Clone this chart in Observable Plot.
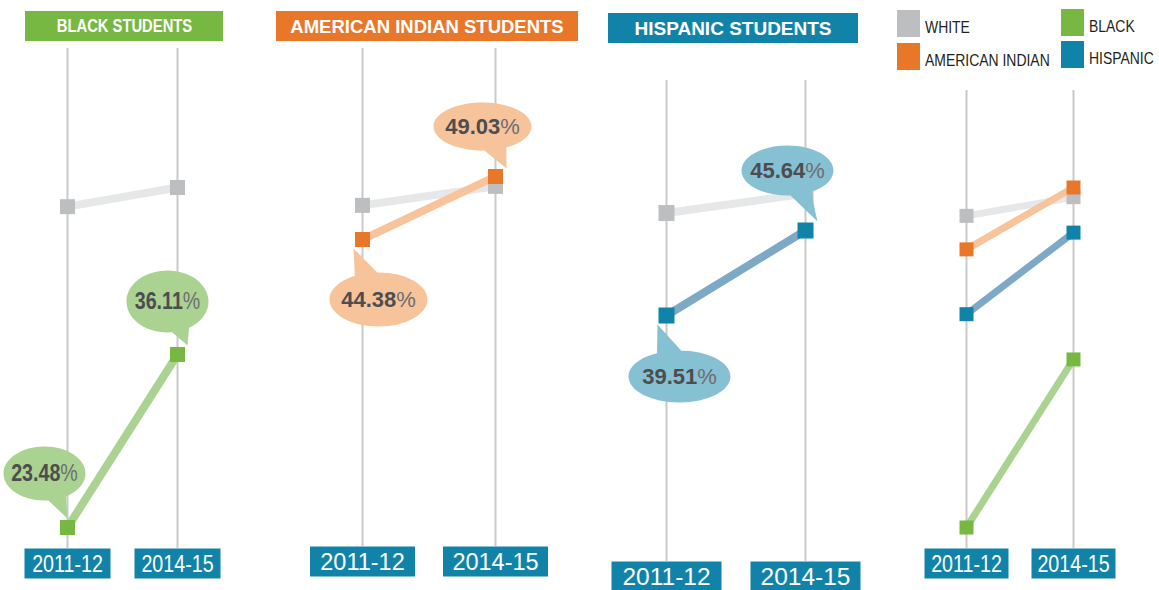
<!DOCTYPE html>
<html><head><meta charset="utf-8">
<script src="https://cdn.jsdelivr.net/npm/d3@7"></script>
<script src="https://cdn.jsdelivr.net/npm/@observablehq/plot@0.6"></script>
<style>
body{margin:0;background:#fff;}
#chart{position:relative;width:1159px;height:590px;overflow:hidden;}
.title{position:absolute;height:30px;line-height:31px;color:#fff;font-weight:bold;text-align:center;white-space:nowrap;}
.title span{display:inline-block;}
.sw{position:absolute;width:23px;height:27px;}
.lg{position:absolute;font-family:"Liberation Sans",Arial,sans-serif;font-size:17px;color:#231f20;line-height:20px;white-space:nowrap;transform:scaleX(0.82);transform-origin:0 0;}
</style></head><body><div id="chart"></div>
<script>
// ---- data ----
const years = ["2011-12", "2014-15"];
const white = [46.9, 48.3];
const black = [23.48, 36.11];
const americanIndian = [44.38, 49.03];
const hispanic = [39.51, 45.64];
const legendNames = ["WHITE", "AMERICAN INDIAN", "BLACK", "HISPANIC"];
const titles = ["BLACK STUDENTS", "AMERICAN INDIAN STUDENTS", "HISPANIC STUDENTS"];

// ---- styles ----
const SANS = '"Liberation Sans",Arial,sans-serif';
const BLUE = "#1283a8";
const series = {
  white: {values: white, dark: "#bcbec0", light: "#e6e7e8", bubble: "#e6e7e8"},
  americanIndian: {values: americanIndian, dark: "#e8772a", light: "#f6c39b", bubble: "#f6c39b"},
  hispanic: {values: hispanic, dark: "#0f83a8", light: "#7ea9c6", bubble: "#86c0d3"},
  black: {values: black, dark: "#77b843", light: "#aad291", bubble: "#aad291"}
};
const rowsOf = key => years.map((year, i) => ({series: key, year, value: series[key].values[i]}));
const allValues = [...white, ...black, ...americanIndian, ...hispanic];
const yDomain = d3.extent(allValues);

function boxSymbol(w, h) {
  return {draw(ctx) { ctx.moveTo(-w / 2, 0); ctx.lineTo(w / 2, 0); ctx.lineTo(w / 2, h); ctx.lineTo(-w / 2, h); ctx.closePath(); }};
}
function bubbleSymbol(b) {
  const {cx, cy, rx, ry, tx, ty} = b;
  return {draw(ctx) {
    const k = 0.5523;
    ctx.moveTo(cx + rx, cy);
    ctx.bezierCurveTo(cx + rx, cy + k * ry, cx + k * rx, cy + ry, cx, cy + ry);
    ctx.bezierCurveTo(cx - k * rx, cy + ry, cx - rx, cy + k * ry, cx - rx, cy);
    ctx.bezierCurveTo(cx - rx, cy - k * ry, cx - k * rx, cy - ry, cx, cy - ry);
    ctx.bezierCurveTo(cx + k * rx, cy - ry, cx + rx, cy - k * ry, cx + rx, cy);
    ctx.closePath();
    const phi = Math.atan2((ty - cy) / ry, (tx - cx) / rx);
    let p1 = [cx + rx * 0.9 * Math.cos(phi - 0.3), cy + ry * 0.9 * Math.sin(phi - 0.3)];
    let p2 = [cx + rx * 0.9 * Math.cos(phi + 0.3), cy + ry * 0.9 * Math.sin(phi + 0.3)];
    const area = (tx - p1[0]) * (p2[1] - p1[1]) - (ty - p1[1]) * (p2[0] - p1[0]);
    if (area < 0) [p1, p2] = [p2, p1];
    const c1 = [p1[0] * 0.45 + tx * 0.55, p1[1] * 0.35 + ty * 0.65];
    const c2 = [p2[0] * 0.6 + tx * 0.4, p2[1] * 0.6 + ty * 0.4];
    ctx.moveTo(p1[0], p1[1]);
    ctx.quadraticCurveTo(c1[0], c1[1], tx, ty);
    ctx.quadraticCurveTo(c2[0], c2[1], p2[0], p2[1]);
    ctx.closePath();
  }};
}

// panel layout; bubble offsets are relative to the data point
const panels = [
  {left: 0, width: 250, xRange: [67, 177], top: 48, bottom: 548, yRange: [527, 177], narrow: true,
   keys: ["white", "black"], lw: 8, side: 15, boxW: 86, boxH: 30, axisSize: 24, labelSize: 24,
   bubbles: [
     {key: "black", i: 0, cx: -23, cy: -54, rx: 41, ry: 27, tx: 0, ty: -9},
     {key: "black", i: 1, cx: -10, cy: -53, rx: 41, ry: 31, tx: 10, ty: -9}
   ]},
  {left: 250, width: 340, xRange: [112, 245], top: 48, bottom: 546, yRange: [522.2, 176], narrow: false,
   keys: ["white", "americanIndian"], lw: 8, side: 15, boxW: 105, boxH: 30, axisSize: 23.5, labelSize: 22,
   bubbles: [
     {key: "americanIndian", i: 1, cx: -13, cy: -50, rx: 49, ry: 24, tx: 11, ty: -8},
     {key: "americanIndian", i: 0, cx: 16, cy: 60, rx: 49, ry: 27, tx: -9, ty: 9}
   ]},
  {left: 590, width: 290, xRange: [76, 215], top: 80, bottom: 561, yRange: [537.3, 183], narrow: false,
   keys: ["white", "hispanic"], lw: 8, side: 16, boxW: 110, boxH: 30, axisSize: 24.5, labelSize: 22,
   bubbles: [
     {key: "hispanic", i: 1, cx: -18, cy: -60, rx: 46, ry: 25, tx: 12, ty: -9},
     {key: "hispanic", i: 0, cx: 13, cy: 61, rx: 51, ry: 26, tx: -9, ty: 9}
   ]},
  {left: 880, width: 279, xRange: [86, 193], top: 90, bottom: 548, yRange: [527, 187], narrow: true,
   keys: ["white", "americanIndian", "hispanic", "black"], lw: 7, side: 14, boxW: 84, boxH: 30, axisSize: 24, labelSize: 24,
   bubbles: []}
];

const chart = document.getElementById("chart");
const ns = "http://www.w3.org/2000/svg";
panels.forEach(p => {
  const marks = [Plot.ruleX(years, {x: d => d, stroke: "#c8c9cb", strokeWidth: 2})];
  p.keys.forEach(k => {
    const s = series[k];
    marks.push(Plot.line(rowsOf(k), {x: "year", y: "value", stroke: s.light, strokeWidth: p.lw}));
    marks.push(Plot.dot(rowsOf(k), {x: "year", y: "value", symbol: "square", r: p.side / Math.sqrt(Math.PI), fill: s.dark}));
  });
  p.bubbles.forEach(b => {
    const row = [rowsOf(b.key)[b.i]];
    marks.push(Plot.dot(row, {x: "year", y: "value", symbol: bubbleSymbol(b), fill: series[b.key].bubble}));
    marks.push(Plot.text(row, {x: "year", y: "value", text: d => d.value.toFixed(2) + "%", dx: b.cx, dy: b.cy,
      fontFamily: SANS, fontSize: p.labelSize, fill: "#4d4d4f", lineAnchor: "middle"}));
  });
  marks.push(Plot.dot(years, {x: d => d, frameAnchor: "bottom", symbol: boxSymbol(p.boxW, p.boxH), fill: BLUE}));
  marks.push(Plot.text(years, {x: d => d, frameAnchor: "bottom", dy: p.boxH / 2 + 1, text: d => d, lineAnchor: "middle",
    fill: "#fff", fontFamily: SANS, fontSize: p.axisSize}));
  const svg = Plot.plot({
    width: p.width, height: 590,
    marginTop: p.top, marginBottom: 590 - p.bottom, marginLeft: 0, marginRight: 0,
    x: {type: "point", domain: years, range: p.xRange, padding: 0, axis: null},
    y: {domain: yDomain, range: p.yRange, axis: null},
    style: {background: "transparent", overflow: "visible"},
    marks
  });
  svg.style.position = "absolute";
  svg.style.left = p.left + "px";
  svg.style.top = "0px";
  chart.appendChild(svg);
  svg.querySelectorAll("text").forEach(t => {
    const s = t.textContent;
    if (s.endsWith("%")) {
      t.textContent = "";
      const a = document.createElementNS(ns, "tspan");
      a.textContent = s.replace("%", "");
      a.setAttribute("font-weight", "bold");
      const b = document.createElementNS(ns, "tspan");
      b.textContent = "%";
      b.setAttribute("fill", "#6d6e71");
      t.appendChild(a); t.appendChild(b);
    }
    if (p.narrow) {
      const tr = t.getAttribute("transform") || "";
      t.setAttribute("transform", tr + " scale(0.82,1)");
    }
  });
});

// titles
const titleBoxes = [
  {left: 25, top: 11, width: 198, bg: "#77b843", size: 18, squeeze: 0.82},
  {left: 276, top: 11, width: 302, bg: "#e8772a", size: 18.5, squeeze: 1},
  {left: 608, top: 13, width: 250, bg: BLUE, size: 19, squeeze: 1}
];
titles.forEach((t, i) => {
  const b = titleBoxes[i];
  const d = document.createElement("div");
  d.className = "title";
  Object.assign(d.style, {left: b.left + "px", top: b.top + "px", width: b.width + "px", background: b.bg, fontFamily: SANS, fontSize: b.size + "px"});
  const sp = document.createElement("span");
  sp.textContent = t;
  sp.style.transform = `scaleX(${b.squeeze})`;
  d.appendChild(sp);
  chart.appendChild(d);
});

// legend
const legendKeys = ["white", "americanIndian", "black", "hispanic"];
const legendPos = [{x: 897, y: 10}, {x: 897, y: 43}, {x: 1061, y: 9}, {x: 1061, y: 41}];
legendNames.forEach((name, i) => {
  const pos = legendPos[i];
  const sw = document.createElement("div");
  sw.className = "sw";
  Object.assign(sw.style, {left: pos.x + "px", top: pos.y + "px", background: series[legendKeys[i]].dark});
  chart.appendChild(sw);
  const lg = document.createElement("div");
  lg.className = "lg";
  Object.assign(lg.style, {left: (pos.x + 28) + "px", top: (pos.y + 8) + "px"});
  lg.textContent = name;
  chart.appendChild(lg);
});
</script></body></html>
